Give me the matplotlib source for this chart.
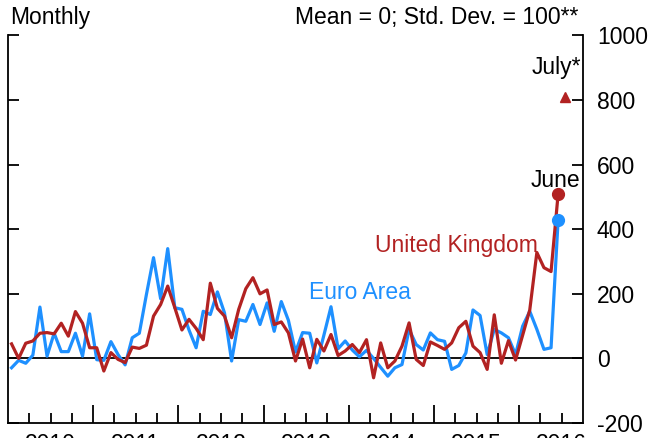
import numpy as np
import matplotlib
matplotlib.use("Agg")
import matplotlib.pyplot as plt

plt.rcParams['font.family'] = ['Liberation Sans', 'DejaVu Sans']
plt.rcParams['axes.unicode_minus'] = False

# Monthly index, Jan 2010 - Jun 2016 (mean = 0, std. dev. = 100)
euro_area = [-29, -6, -15, 10, 159, 7, 78, 21, 21, 78, 7, 138,
             -4, -6, 52, 12, -20, 64, 78, 198, 312, 185, 340, 157,
             152, 88, 33, 146, 136, 206, 141, -8, 120, 115, 167, 105,
             172, 84, 176, 118, 20, 80, 78, -14, 72, 160, 30, 54,
             26, 5, 25, 0, -28, -55, -29, -19, 90, 43, 26, 79,
             58, 53, -34, -22, 17, 150, 133, 12, 90, 79, 64, 12,
             100, 146, 90, 28, 33, 430]
united_kingdom = [45, 0, 47, 54, 78, 80, 76, 109, 69, 145, 109, 33,
                  33, -39, 18, -3, -13, 35, 31, 41, 131, 167, 224, 157,
                  88, 121, 93, 58, 233, 155, 131, 64, 152, 216, 250, 200,
                  212, 105, 113, 79, -8, 60, -29, 59, 23, 74, 9, 23,
                  43, 18, 58, -60, 48, -29, -8, 38, 110, -3, -22, 51,
                  40, 28, 48, 95, 115, 38, 18, -34, 135, -15, 55, -5,
                  72, 150, 328, 281, 269, 510]
uk_july = 810
years = ['2010', '2011', '2012', '2013', '2014', '2015', '2016']

blue = '#1E90FF'
red = '#B22222'

# months since Jan 2010, points at mid-month
x = np.arange(len(euro_area)) + 0.5

fig = plt.figure(figsize=(6.49, 4.38), dpi=100)
ax = fig.add_axes([8/649, 15/438, 575/649, 387.5/438])

ax.axhline(0, color='black', lw=1.3, zorder=1)
ax.plot(x, euro_area, color=blue, lw=2.3, zorder=2)
ax.plot(x, united_kingdom, color=red, lw=2.3, zorder=3)
ax.plot(x[-1], euro_area[-1], 'o', color=blue, ms=8.5, zorder=4)
ax.plot(x[-1], united_kingdom[-1], 'o', color=red, ms=8.5, zorder=4)
ax.plot(x[-1] + 1, uk_july, '^', color=red, ms=7, zorder=4)

ax.set_xlim(0, 81)
ax.set_ylim(-200, 1000)

ax.spines['top'].set_visible(False)
for s in ['left', 'right', 'bottom']:
    ax.spines[s].set_linewidth(1.3)

ax.set_yticks(range(-200, 1001, 200))
ax.yaxis.set_ticks_position('both')
ax.tick_params(axis='y', direction='in', length=8, width=1.3,
               labelleft=False, labelright=True, labelsize=16.5, pad=10)

ax.set_xticks(range(12, 81, 12))
ax.set_xticks(range(3, 81, 3), minor=True)
ax.tick_params(axis='x', which='major', direction='in', length=13, width=1.3,
               labelbottom=False)
ax.tick_params(axis='x', which='minor', direction='in', length=7, width=1.3)

for i, yr in enumerate(years):
    ax.text(6 + 12 * i, -232, yr, ha='center', va='top', fontsize=16.5)

ax.text(74.6, 351, 'United Kingdom', color=red, fontsize=16.5,
        ha='right', va='center')
ax.text(49.6, 203, 'Euro Area', color=blue, fontsize=16.5,
        ha='center', va='center')
ax.text(77.1, 550, 'June', fontsize=16.5, ha='center', va='center')
ax.text(77.3, 902, 'July*', fontsize=16.5, ha='center', va='center')

fig.text(10/649, 1 - 24/438, 'Monthly', fontsize=16.5, va='baseline')
fig.text(578/649, 1 - 24/438, 'Mean = 0; Std. Dev. = 100**', fontsize=16.5,
         va='baseline', ha='right')

fig.savefig('out.png', dpi=100)
